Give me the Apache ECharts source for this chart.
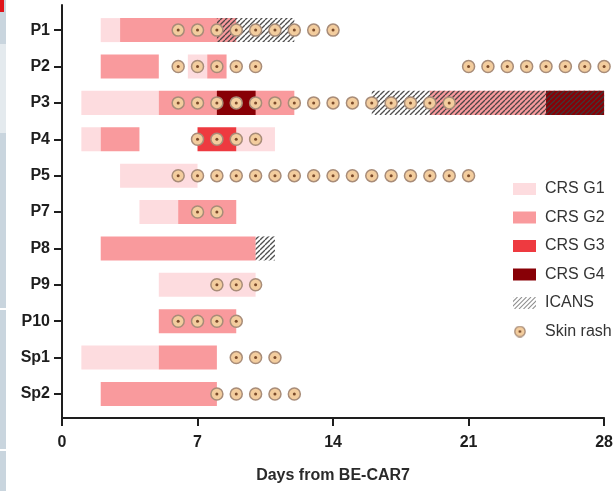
<!DOCTYPE html>
<html>
<head>
<meta charset="utf-8">
<script src="https://cdn.jsdelivr.net/npm/echarts@6/dist/echarts.min.js"></script>
<style>
  html, body { margin: 0; padding: 0; background: #ffffff; }
  #chart { width: 616px; height: 491px; }
</style>
</head>
<body>
<div id="chart"></div>
<script>
// Patients, top to bottom
const patients = ['P1', 'P2', 'P3', 'P4', 'P5', 'P7', 'P8', 'P9', 'P10', 'Sp1', 'Sp2'];
const dayTicks = [0, 7, 14, 21, 28];

// CRS episodes per grade: [patient, start day, end day]
const crsG1 = [
  ['P1', 2, 3], ['P2', 6.5, 7.5], ['P3', 1, 5], ['P4', 1, 2], ['P4', 9, 11],
  ['P5', 3, 7], ['P7', 4, 6], ['P9', 5, 10], ['Sp1', 1, 5]
];
const crsG2 = [
  ['P1', 3, 9], ['P2', 2, 5], ['P2', 7.5, 8.5], ['P3', 5, 12], ['P3', 19, 25],
  ['P4', 2, 4], ['P7', 6, 9], ['P8', 2, 10], ['P10', 5, 9], ['Sp1', 5, 8], ['Sp2', 2, 8]
];
const crsG3 = [['P4', 7, 9]];
const crsG4 = [['P3', 8, 10], ['P3', 25, 28]];

// ICANS periods: [patient, start day, end day]
const icans = [['P1', 8, 12], ['P3', 16, 28], ['P8', 10, 11]];

// Days with skin rash per patient
const skinRash = {
  P1: [6, 7, 8, 9, 10, 11, 12, 13, 14],
  P2: [6, 7, 8, 9, 10, 21, 22, 23, 24, 25, 26, 27, 28],
  P3: [6, 7, 8, 9, 10, 11, 12, 13, 14, 15, 16, 17, 18, 19, 20],
  P4: [7, 8, 9, 10],
  P5: [6, 7, 8, 9, 10, 11, 12, 13, 14, 15, 16, 17, 18, 19, 20, 21],
  P7: [7, 8],
  P8: [],
  P9: [8, 9, 10],
  P10: [6, 7, 8, 9],
  Sp1: [9, 10, 11],
  Sp2: [8, 9, 10, 11, 12]
};

const colors = { g1: '#fddcdf', g2: '#f99a9d', g3: '#ee3a40', g4: '#880006' };
const FONT = '"Liberation Sans", Arial, Helvetica, sans-serif';

function hatchCanvas(w, h, step, color, lw) {
  const c = document.createElement('canvas');
  c.width = w; c.height = h;
  const ctx = c.getContext('2d');
  ctx.strokeStyle = color;
  ctx.lineWidth = lw;
  for (let k = -h; k < w + h; k += step) {
    ctx.beginPath();
    ctx.moveTo(k, h);
    ctx.lineTo(k + h, 0);
    ctx.stroke();
  }
  return c;
}
// repeating tile for the ICANS hatch
const tile = (function () {
  const s = 5;
  const c = document.createElement('canvas');
  c.width = s; c.height = s;
  const ctx = c.getContext('2d');
  ctx.strokeStyle = 'rgba(60,60,60,0.9)';
  ctx.lineWidth = 1.3;
  [-s, 0, s].forEach(ox => {
    ctx.beginPath();
    ctx.moveTo(ox, s);
    ctx.lineTo(ox + s, 0);
    ctx.stroke();
  });
  return c;
})();
const hatchFill = { image: tile, repeat: 'repeat' };

function rashCanvas(w, h) {
  const sc = 2;
  const c = document.createElement('canvas');
  c.width = w * sc; c.height = h * sc;
  const ctx = c.getContext('2d');
  ctx.scale(sc, sc);
  ctx.beginPath();
  ctx.arc(6.5, h / 2, 5.6, 0, Math.PI * 2);
  ctx.fillStyle = '#f3cd9e';
  ctx.fill();
  ctx.lineWidth = 1.4;
  ctx.strokeStyle = '#a88c78';
  ctx.stroke();
  ctx.beginPath();
  ctx.arc(6.5, h / 2, 1.4, 0, Math.PI * 2);
  ctx.fillStyle = '#7a4a2a';
  ctx.fill();
  return c;
}
const icansIcon = 'image://' + hatchCanvas(46, 24, 9, 'rgba(110,110,110,0.8)', 2).toDataURL();
const rashIcon = 'image://' + rashCanvas(23, 13).toDataURL();

function toBand(list) {
  return list.map(([p, s, e]) => [s, e, patients.indexOf(p)]);
}
function bandRenderer(fill) {
  return function (params, api) {
    const y = api.value(2);
    const a = api.coord([api.value(0), y]);
    const b = api.coord([api.value(1), y]);
    const h = api.size([0, 1])[1] * 0.66;
    return {
      type: 'rect',
      shape: { x: a[0], y: a[1] - h / 2, width: b[0] - a[0], height: h },
      style: { fill: fill }
    };
  };
}
function bandSeries(name, list, fill, legendColor) {
  return {
    name: name,
    type: 'custom',
    renderItem: bandRenderer(fill),
    itemStyle: { color: legendColor },
    encode: { x: [0, 1], y: 2 },
    data: toBand(list),
    silent: true,
    clip: false
  };
}

const rashData = [];
patients.forEach((p, i) => skinRash[p].forEach(d => rashData.push([d, i])));

const chart = echarts.init(document.getElementById('chart'), null, { renderer: 'canvas' });
chart.setOption({
  animation: false,
  backgroundColor: '#ffffff',
  grid: { left: 62, right: 9, top: 5, bottom: 73 },
  xAxis: {
    type: 'value',
    position: 'bottom',
    min: 0, max: 28, interval: 7,
    splitLine: { show: false },
    axisLine: { show: true, onZero: false, lineStyle: { color: '#1e1e1e', width: 2 } },
    axisTick: { show: true, length: 8, lineStyle: { color: '#1e1e1e', width: 2 } },
    axisLabel: {
      margin: 17, color: '#1e1e1e', fontSize: 16, fontWeight: 'bold', fontFamily: FONT
    },
    name: 'Days from BE-CAR7',
    nameLocation: 'middle',
    nameGap: 50,
    nameTextStyle: { color: '#2a2a2a', fontSize: 16, fontWeight: 'bold', fontFamily: FONT }
  },
  yAxis: {
    type: 'value',
    inverse: true,
    position: 'left',
    min: -0.69, max: 10.66,
    splitLine: { show: false },
    axisLine: { show: true, onZero: false, lineStyle: { color: '#1e1e1e', width: 2 } },
    axisTick: { show: true, length: 8, lineStyle: { color: '#1e1e1e', width: 2 },
      customValues: patients.map((p, i) => i) },
    axisLabel: {
      margin: 12, color: '#1e1e1e', fontSize: 16, fontWeight: 'bold', fontFamily: FONT,
      customValues: patients.map((p, i) => i),
      formatter: v => patients[Math.round(v)]
    }
  },
  legend: {
    orient: 'vertical',
    left: 508, top: 175,
    itemWidth: 23, itemHeight: 12,
    itemGap: 10.5,
    selectedMode: false,
    textStyle: { color: '#333333', fontSize: 16, fontFamily: FONT, lineHeight: 18, padding: [0, 0, 0, 4] },
    data: [
      { name: 'CRS G1', icon: 'rect' },
      { name: 'CRS G2', icon: 'rect' },
      { name: 'CRS G3', icon: 'rect' },
      { name: 'CRS G4', icon: 'rect' },
      { name: 'ICANS', icon: icansIcon },
      { name: 'Skin rash', icon: rashIcon }
    ]
  },
  graphic: [
    // slide edge strip on the left
    { type: 'rect', left: 0, top: 0, shape: { width: 6, height: 491 }, style: { fill: '#c9d5de' }, z: 10 },
    { type: 'rect', left: 0, top: 44, shape: { width: 6, height: 89 }, style: { fill: '#e4eaee' }, z: 11 },
    { type: 'rect', left: 0, top: 308, shape: { width: 6, height: 2 }, style: { fill: '#ffffff' }, z: 11 },
    { type: 'rect', left: 0, top: 449, shape: { width: 6, height: 2 }, style: { fill: '#ffffff' }, z: 11 },
    { type: 'rect', left: 0, top: 0, shape: { width: 4, height: 12 }, style: { fill: '#e0141b' }, z: 12 }
  ],
  series: [
    bandSeries('CRS G1', crsG1, colors.g1, colors.g1),
    bandSeries('CRS G2', crsG2, colors.g2, colors.g2),
    bandSeries('CRS G3', crsG3, colors.g3, colors.g3),
    bandSeries('CRS G4', crsG4, colors.g4, colors.g4),
    bandSeries('ICANS', icans, hatchFill, '#777777'),
    {
      name: 'Skin rash',
      type: 'custom',
      itemStyle: { color: '#f3cd9e' },
      encode: { x: 0, y: 1 },
      data: rashData,
      silent: true,
      clip: false,
      renderItem: function (params, api) {
        const c = api.coord([api.value(0), api.value(1)]);
        return {
          type: 'group',
          children: [
            { type: 'circle', shape: { cx: c[0], cy: c[1], r: 6 },
              style: { fill: '#f3cd9e', stroke: '#a88c78', lineWidth: 1.5 } },
            { type: 'circle', shape: { cx: c[0], cy: c[1], r: 1.5 },
              style: { fill: '#7a4a2a' } }
          ]
        };
      }
    }
  ]
});
</script>
</body>
</html>
